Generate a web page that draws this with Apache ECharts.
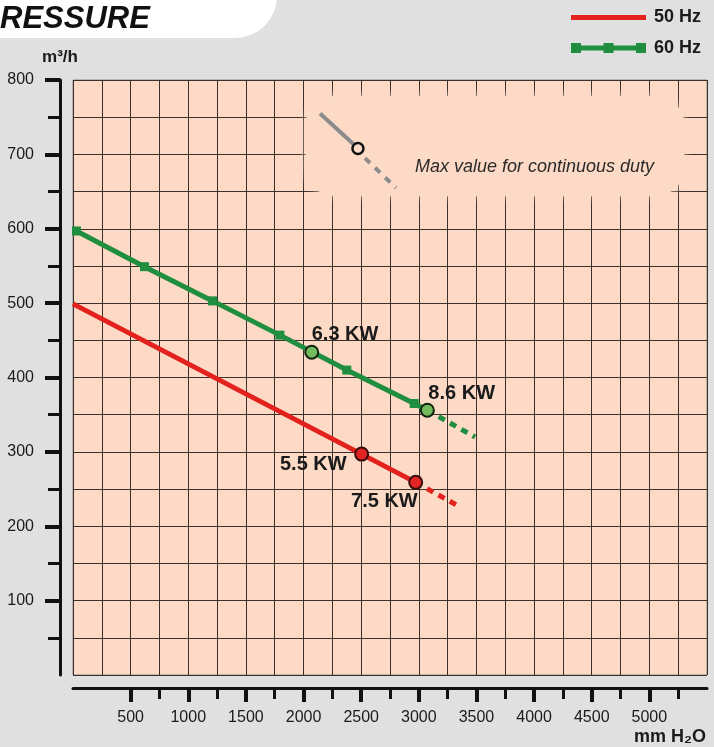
<!DOCTYPE html>
<html>
<head>
<meta charset="utf-8">
<script src="https://cdn.jsdelivr.net/npm/echarts@6/dist/echarts.min.js"></script>
<style>
html,body{margin:0;padding:0;background:#e0e0e0;}
#chart{width:714px;height:747px;}
</style>
</head>
<body>
<div id="chart"></div>
<script>
// ---- data ----
const seriesNames = ['50 Hz', '60 Hz'];
const head50 = [0, 2504, 2973];
const flow50 = [499, 297, 259];
const head50Ext = [2973, 3357];
const flow50Ext = [259, 226];
const head60 = [30, 620, 1210, 1795, 2375, 2960, 3074];
const flow60 = [597, 549, 503, 457, 410, 365, 356];
const head60Ext = [3074, 3488];
const flow60Ext = [356, 320];
const dutyHead50 = [2504, 2973];
const dutyFlow50 = [297, 259];
const dutyLabel50 = ['5.5 KW', '7.5 KW'];
const dutyHead60 = [2071, 3074];
const dutyFlow60 = [434, 356];
const dutyLabel60 = ['6.3 KW', '8.6 KW'];
const keyLineHead = [2143, 2446];
const keyLineFlow = [755, 712];
const keyDotHead = [2472];
const keyDotFlow = [708];
const keyDashHead = [2533, 2802];
const keyDashFlow = [695, 655];
const keyText = 'Max value for continuous duty';
const xTickValues = [500, 1000, 1500, 2000, 2500, 3000, 3500, 4000, 4500, 5000];
const xMinorTicks = [750, 1250, 1750, 2250, 2750, 3250, 3750, 4250, 4750, 5250];
const yTickValues = [100, 200, 300, 400, 500, 600, 700, 800];
const yMinorTicks = [50, 150, 250, 350, 450, 550, 650, 750];
const titleText = 'RESSURE';
const yName = 'm³/h';
const xName = 'mm H₂O';

const zip = (a, b) => a.map((v, i) => [v, b[i]]);

const RED = '#e3211d';
const GREEN = '#1f8f3f';
const PINK = '#fcdac6';
const FONT = '"Liberation Sans", Arial, sans-serif';
const plain = v => String(v);

const chart = echarts.init(document.getElementById('chart'), null, {renderer: 'canvas'});

const dutyLabelCfg50 = [
  {offset: [-15, 10], align: 'right'},
  {offset: [2, 19], align: 'right'}
];
const dutyLabelCfg60 = [
  {offset: [0, -18], align: 'left'},
  {offset: [1, -17], align: 'left'}
];

function dutyData(hs, fs, labels, cfgs) {
  return hs.map((h, i) => ({
    value: [h, fs[i]],
    label: {
      show: true,
      formatter: labels[i],
      position: 'inside',
      offset: cfgs[i].offset,
      align: cfgs[i].align,
      verticalAlign: 'middle',
      fontFamily: FONT,
      fontWeight: 'bold',
      fontSize: 20,
      color: '#1a1a1a'
    }
  }));
}

const option = {
  animation: false,
  backgroundColor: '#e0e0e0',
  grid: {
    left: 73, right: 7, top: 80, bottom: 72,
    show: true, backgroundColor: PINK, borderColor: '#8a8a8a', borderWidth: 1
  },
  legend: {
    orient: 'vertical',
    left: 571, top: 7.5,
    padding: 0,
    itemWidth: 75, itemHeight: 10, itemGap: 10.5,
    textStyle: {fontFamily: FONT, fontWeight: 'bold', fontSize: 18, color: '#1a1a1a', lineHeight: 20, padding: [0, 0, 0, 3]},
    data: [
      {name: '50 Hz', icon: 'path://M0,0H0.01V0.01H0Z M0,2.5H75V7.5H0Z M0,9.99H0.01V10H0Z'},
      {name: '60 Hz', icon: 'path://M0,0H10V10H0Z M32.5,0H42.5V10H32.5Z M65,0H75V10H65Z M0,2.5H75V7.5H0Z'}
    ]
  },
  xAxis: [
    {
      type: 'value', min: 0, max: 5500, interval: 250, position: 'bottom',
      axisLine: {show: false}, axisTick: {show: false}, axisLabel: {show: false},
      splitLine: {show: true, lineStyle: {color: '#3c302b', width: 1}}
    },
    {
      type: 'value', min: 0, max: 5500, position: 'bottom', offset: 13,
      axisLine: {show: true, onZero: false, lineStyle: {color: '#111', width: 3}},
      axisTick: {show: true, customValues: xTickValues, length: 14, lineStyle: {color: '#111', width: 4}},
      axisLabel: {show: true, customValues: xTickValues, formatter: plain, margin: 22, fontFamily: FONT, fontSize: 16, color: '#1a1a1a'},
      splitLine: {show: false}
    },
    {
      type: 'value', min: 0, max: 5500, position: 'bottom', offset: 13,
      axisLine: {show: false, onZero: false},
      axisTick: {show: true, customValues: xMinorTicks, length: 11, lineStyle: {color: '#111', width: 3}},
      axisLabel: {show: false},
      splitLine: {show: false}
    }
  ],
  yAxis: [
    {
      type: 'value', min: 0, max: 800, interval: 50, position: 'left',
      axisLine: {show: false}, axisTick: {show: false}, axisLabel: {show: false},
      splitLine: {show: true, lineStyle: {color: '#3c302b', width: 1}}
    },
    {
      type: 'value', min: 0, max: 800, position: 'left', offset: 13,
      name: yName, nameLocation: 'end', nameGap: 23,
      nameTextStyle: {fontFamily: FONT, fontWeight: 'bold', fontSize: 17, color: '#1a1a1a', align: 'center', verticalAlign: 'middle'},
      axisLine: {show: true, onZero: false, lineStyle: {color: '#111', width: 3}},
      axisTick: {show: true, customValues: yTickValues, length: 15, lineStyle: {color: '#111', width: 4}},
      axisLabel: {show: true, customValues: yTickValues, formatter: plain, margin: 26, fontFamily: FONT, fontSize: 16, color: '#1a1a1a'},
      splitLine: {show: false}
    },
    {
      type: 'value', min: 0, max: 800, position: 'left', offset: 13,
      axisLine: {show: false, onZero: false},
      axisTick: {show: true, customValues: yMinorTicks, length: 12, lineStyle: {color: '#111', width: 3}},
      axisLabel: {show: false},
      splitLine: {show: false}
    }
  ],
  graphic: {
    elements: [
      {
        type: 'rect', z: 1, silent: true,
        shape: {x: -40, y: -60, width: 317, height: 98, r: 42},
        style: {fill: '#ffffff'}
      },
      {
        type: 'text', z: 2, left: 0, top: 4, silent: true,
        style: {text: titleText, font: 'italic bold 31px ' + FONT, fill: '#111'}
      },
      {
        type: 'rect', z: 1, silent: true,
        shape: {x: 306, y: 96, width: 378, height: 100, r: 28},
        style: {fill: PINK, shadowBlur: 8, shadowColor: PINK}
      },
      {
        type: 'text', z: 2, right: 8, top: 728, silent: true,
        style: {text: xName, font: 'bold 18px ' + FONT, fill: '#1a1a1a'}
      }
    ]
  },
  series: [
    {
      name: '50 Hz', type: 'line', xAxisIndex: 0, yAxisIndex: 0, z: 3,
      data: zip(head50, flow50), symbol: 'none',
      color: RED, lineStyle: {color: RED, width: 5}
    },
    {
      name: '50 Hz ext', type: 'line', xAxisIndex: 0, yAxisIndex: 0, z: 3,
      data: zip(head50Ext, flow50Ext), symbol: 'none',
      lineStyle: {color: RED, width: 5, type: [7, 6]}
    },
    {
      name: '60 Hz', type: 'line', xAxisIndex: 0, yAxisIndex: 0, z: 3,
      data: zip(head60, flow60), symbol: 'rect', symbolSize: 9, showSymbol: true,
      color: GREEN, itemStyle: {color: GREEN}, lineStyle: {color: GREEN, width: 5}
    },
    {
      name: '60 Hz ext', type: 'line', xAxisIndex: 0, yAxisIndex: 0, z: 3,
      data: zip(head60Ext, flow60Ext), symbol: 'none',
      lineStyle: {color: GREEN, width: 5, type: [7, 6]}
    },
    {
      name: 'duty50', type: 'scatter', xAxisIndex: 0, yAxisIndex: 0, z: 4,
      symbol: 'circle', symbolSize: 13,
      itemStyle: {color: '#e02424', borderColor: '#3a0c0c', borderWidth: 2, opacity: 1},
      data: dutyData(dutyHead50, dutyFlow50, dutyLabel50, dutyLabelCfg50)
    },
    {
      name: 'duty60', type: 'scatter', xAxisIndex: 0, yAxisIndex: 0, z: 4,
      symbol: 'circle', symbolSize: 13,
      itemStyle: {color: '#74bb5e', borderColor: '#10240f', borderWidth: 2, opacity: 1},
      data: dutyData(dutyHead60, dutyFlow60, dutyLabel60, dutyLabelCfg60)
    },
    {
      name: 'keyLine', type: 'line', xAxisIndex: 0, yAxisIndex: 0, z: 3,
      data: zip(keyLineHead, keyLineFlow), symbol: 'none',
      lineStyle: {color: '#8c8c8c', width: 4}
    },
    {
      name: 'keyDash', type: 'line', xAxisIndex: 0, yAxisIndex: 0, z: 3,
      data: zip(keyDashHead, keyDashFlow), symbol: 'none',
      lineStyle: {color: '#8c8c8c', width: 4, type: [7, 7]}
    },
    {
      name: 'keyDot', type: 'scatter', xAxisIndex: 0, yAxisIndex: 0, z: 4,
      symbol: 'circle', symbolSize: 11,
      itemStyle: {color: PINK, borderColor: '#111', borderWidth: 2.5, opacity: 1},
      label: {
        show: true, formatter: keyText, position: 'inside', offset: [57, 19],
        align: 'left', verticalAlign: 'middle',
        fontFamily: FONT, fontStyle: 'italic', fontSize: 18, color: '#2a2a2a'
      },
      data: zip(keyDotHead, keyDotFlow)
    }
  ]
};
chart.setOption(option);
</script>
</body>
</html>
